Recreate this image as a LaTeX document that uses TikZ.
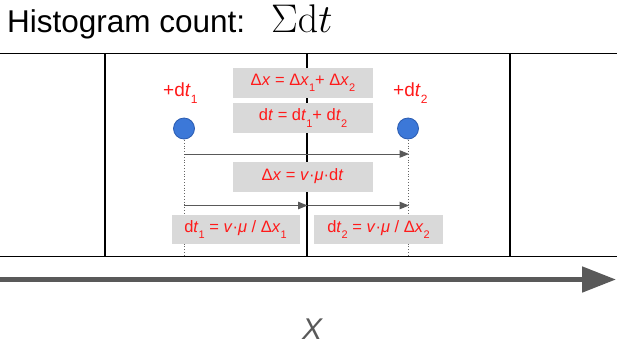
\RequirePackage{fix-cm}
\documentclass[tikz,border=0pt]{standalone}
\usepackage[no-math]{fontspec}
\setmainfont{Liberation Sans}
\usetikzlibrary{arrows.meta}
\definecolor{txtred}{HTML}{FF1A1A}
\definecolor{boxgray}{HTML}{D9D9D9}
\definecolor{axgray}{HTML}{595959}
\definecolor{dotblue}{HTML}{3C78D8}
\definecolor{dotedge}{HTML}{2A5BB0}
\newcommand{\sbx}[1]{\raisebox{-6.5pt}{\fontsize{11}{11}\selectfont #1}}
\newcommand{\sbl}[1]{\raisebox{-7pt}{\fontsize{12}{12}\selectfont #1}}
\tikzset{
  eqbox/.style={fill=boxgray, text=txtred, minimum height=30pt, inner sep=0pt,
    font=\fontsize{16.5}{16.5}\selectfont},
  bin/.style={line width=1.6pt, black},
  dotball/.style={circle, fill=dotblue, draw=dotedge, line width=0.8pt, minimum size=21pt, inner sep=0pt},
  guide/.style={dotted, gray!80!black, line width=0.8pt},
  flow/.style={axgray, line width=1pt, -{Triangle[length=9.5pt,width=7.5pt]}},
  tag/.style={text=txtred, font=\fontsize{19}{19}\selectfont, inner sep=0pt}
}
\begin{document}
\begin{tikzpicture}[x=1pt,y=-1pt]
\useasboundingbox (0,0) rectangle (617,349);
% title
\node[anchor=base west, inner sep=0pt, font=\fontsize{31.5}{31.5}\selectfont] (title) at (7,32) {Histogram count:};
\node[anchor=base west, inner sep=0pt, font=\fontsize{40}{40}\selectfont] (sum) at (271,32) {$\Sigma\mathrm{d}t$};
% bins
\coordinate (tl) at (0,53.5);
\coordinate (tr) at (617,53.5);
\coordinate (bl) at (0,256.5);
\coordinate (br) at (617,256.5);
\draw[bin] (tl) -- (tr);
\draw[bin] (bl) -- (br);
\coordinate (v1t) at (105,53.5); \coordinate (v1b) at (105,256.5);
\coordinate (v2t) at (307,53.5); \coordinate (v2b) at (307,256.5);
\coordinate (v3t) at (510,53.5); \coordinate (v3b) at (510,256.5);
\draw[bin] (v1t) -- (v1b);
\draw[bin] (v2t) -- (v2b);
\draw[bin] (v3t) -- (v3b);
% guides
\coordinate (g1t) at (184,140); \coordinate (g1b) at (184,256);
\coordinate (g2t) at (408,140); \coordinate (g2b) at (408,256);
\draw[guide] (g1t) -- (g1b);
\draw[guide] (g2t) -- (g2b);
% arrows
\coordinate (a1s) at (184,154); \coordinate (a1e) at (409,154);
\coordinate (a2s) at (184,205.5); \coordinate (a2m) at (307.5,205.5); \coordinate (a2e) at (409,205.5);
\draw[flow] (a1s) -- (a1e);
\draw[flow] (a2s) -- (a2m);
\draw[flow] (a2m) -- (a2e);
% boxes
\node[eqbox, minimum width=140pt] (b1) at (303,83) {Δ\textit{x} = Δ\textit{x}\sbx{1}+ Δ\textit{x}\sbx{2}};
\node[eqbox, minimum width=140pt] (b2) at (303,118) {d\textit{t} = d\textit{t}\sbx{1}+ d\textit{t}\sbx{2}};
\node[eqbox, minimum width=140pt] (b3) at (302.5,176.5) {Δ\textit{x} = \textit{v}·\textit{μ}·d\textit{t}};
\node[eqbox, minimum width=128pt, minimum height=29pt] (b4) at (235.5,229.5) {d\textit{t}\sbx{1} = \textit{v}·\textit{μ} / Δ\textit{x}\sbx{1}};
\node[eqbox, minimum width=129pt, minimum height=29pt] (b5) at (378.5,229.5) {d\textit{t}\sbx{2} = \textit{v}·\textit{μ} / Δ\textit{x}\sbx{2}};
% particles
\node[dotball] (p1) at (184,128.5) {};
\node[dotball] (p2) at (408,128.5) {};
\node[tag, anchor=base west] (l1) at (163,96) {+d\textit{t}\sbl{1}};
\node[tag, anchor=base west] (l2) at (393,96) {+d\textit{t}\sbl{2}};
% axis
\coordinate (ax0) at (0,279.5);
\coordinate (ax1) at (616,279.5);
\draw[axgray, line width=5pt, -{Triangle[length=34pt,width=25pt]}] (ax0) -- (ax1);
\node[text=axgray, font=\fontsize{30}{30}\itshape\selectfont, inner sep=0pt] (xl) at (312,329) {X};
\end{tikzpicture}
\end{document}
